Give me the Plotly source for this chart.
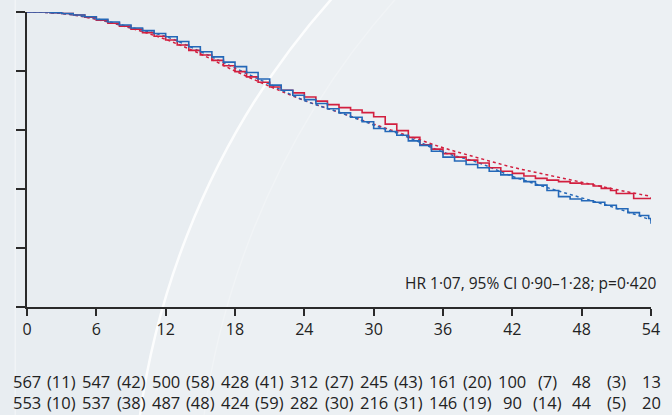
import plotly.graph_objects as go

# ---------------- data ----------------
red_t = [0, 1, 2, 3, 4, 5, 6, 7, 8, 9, 10, 11, 12, 13, 14, 15, 16, 17, 18, 19, 20,
         21, 22, 23, 24, 25, 26, 27, 28, 29, 30, 31, 32, 33, 34, 35, 36, 37, 38, 39,
         40, 41, 42, 43, 44, 45, 46, 47, 48, 49, 49.7, 50.5, 51, 52.5, 54]
red_s = [1.0, 1.0, 0.998, 0.995, 0.99, 0.982, 0.972, 0.962, 0.952, 0.942, 0.93, 0.918,
         0.905, 0.888, 0.87, 0.854, 0.836, 0.818, 0.798, 0.78, 0.762, 0.746, 0.735,
         0.726, 0.712, 0.698, 0.686, 0.676, 0.668, 0.659, 0.645, 0.62, 0.598, 0.575,
         0.55, 0.535, 0.52, 0.508, 0.498, 0.488, 0.472, 0.46, 0.453, 0.444, 0.436,
         0.43, 0.425, 0.42, 0.417, 0.41, 0.402, 0.395, 0.385, 0.368, 0.372]

blue_t = [0, 2, 3, 4, 5, 6, 7, 8, 9, 10, 11, 12, 13, 14, 15, 16, 17, 18, 19, 20, 21,
          22, 23, 24, 25, 26, 27, 28, 29, 30, 31, 32, 33, 34, 35, 36, 37, 38, 39, 40,
          41, 42, 43, 44, 45, 46, 47, 48, 49, 50, 51, 52, 53, 53.8, 54]
blue_s = [1.0, 0.998, 0.995, 0.99, 0.984, 0.975, 0.966, 0.956, 0.946, 0.937, 0.927,
          0.916, 0.9, 0.882, 0.865, 0.848, 0.83, 0.815, 0.795, 0.773, 0.752, 0.735,
          0.718, 0.703, 0.69, 0.672, 0.658, 0.643, 0.628, 0.605, 0.595, 0.582, 0.563,
          0.548, 0.528, 0.508, 0.495, 0.483, 0.472, 0.46, 0.448, 0.436, 0.425, 0.413,
          0.395, 0.374, 0.366, 0.36, 0.355, 0.345, 0.333, 0.32, 0.31, 0.30, 0.282]

fit_t = [0, 3, 6, 9, 12, 15, 18, 21, 24, 27, 30, 33, 36, 39, 42, 45, 48, 51, 54]
red_fit = [1.0, 0.995, 0.975, 0.945, 0.907, 0.858, 0.80, 0.748, 0.70, 0.66, 0.62,
           0.58, 0.54, 0.506, 0.474, 0.448, 0.423, 0.398, 0.375]
blue_fit = [1.0, 0.995, 0.977, 0.948, 0.917, 0.866, 0.81, 0.755, 0.70, 0.66, 0.617,
            0.575, 0.525, 0.49, 0.443, 0.405, 0.37, 0.335, 0.295]

x_ticks = [0, 6, 12, 18, 24, 30, 36, 42, 48, 54]
y_ticks = [0, 0.2, 0.4, 0.6, 0.8, 1.0]

risk_row1 = [567, 547, 500, 428, 312, 245, 161, 100, 48, 13]
events_row1 = [11, 42, 58, 41, 27, 43, 20, 7, 3]
risk_row2 = [553, 537, 487, 424, 282, 216, 146, 90, 44, 20]
events_row2 = [10, 38, 48, 59, 30, 31, 19, 14, 5]

hr_text = "HR 1·07, 95% CI 0·90–1·28; p=0·420"

RED = "#d21f3f"
BLUE = "#2468b8"
AX = "#2a2a2a"
BG = "#e8edf1"
FONT = "Open Sans"
TXT = "#222222"

# ---------------- figure ----------------
fig = go.Figure()
fig.add_trace(go.Scatter(x=fit_t, y=red_fit, mode="lines", line_shape="spline",
                         line=dict(color=RED, width=1.5, dash="3px,3px"), hoverinfo="skip"))
fig.add_trace(go.Scatter(x=fit_t, y=blue_fit, mode="lines", line_shape="spline",
                         line=dict(color=BLUE, width=1.5, dash="3px,3px"), hoverinfo="skip"))
fig.add_trace(go.Scatter(x=red_t, y=red_s, mode="lines", line_shape="hv",
                         line=dict(color=RED, width=1.6), hoverinfo="skip"))
fig.add_trace(go.Scatter(x=blue_t, y=blue_s, mode="lines", line_shape="hv",
                         line=dict(color=BLUE, width=1.6), hoverinfo="skip"))

# plot area geometry (pixels)
L, R, T, B = 27, 12, 12, 108
W, H = 672, 415
pw, ph = W - L - R, H - T - B

def px2x(px):
    return (px - L) / pw

def py2y(py):
    return (H - B - py) / ph

shapes = []
# decorative background arcs
cx, cy, r = 920, 525, 786
shapes.append(dict(type="circle", xref="paper", yref="paper", layer="below",
                   x0=px2x(cx - r), x1=px2x(cx + r), y0=py2y(cy + r), y1=py2y(cy - r),
                   fillcolor="rgba(255,255,255,0.2)", line=dict(width=0)))
shapes.append(dict(type="circle", xref="paper", yref="paper", layer="below",
                   x0=px2x(cx - r), x1=px2x(cx + r), y0=py2y(cy + r), y1=py2y(cy - r),
                   line=dict(color="rgba(255,255,255,0.85)", width=2.5)))
cx2 = 985
shapes.append(dict(type="circle", xref="paper", yref="paper", layer="below",
                   x0=px2x(cx2 - r), x1=px2x(cx2 + r), y0=py2y(cy + r), y1=py2y(cy - r),
                   line=dict(color="rgba(255,255,255,0.25)", width=1.5)))
# faint left strip line
shapes.append(dict(type="line", xref="paper", yref="paper", layer="below",
                   x0=px2x(15), x1=px2x(15), y0=py2y(0), y1=py2y(H),
                   line=dict(color="rgba(255,255,255,0.6)", width=1)))
# x axis extension to the left of the y axis
shapes.append(dict(type="line", xref="paper", yref="paper",
                   x0=px2x(16), x1=0, y0=0, y1=0, line=dict(color=AX, width=1.5)))

annotations = []
y1 = py2y(381)
y2 = py2y(402)
for i, t in enumerate(x_ticks):
    annotations.append(dict(x=t, y=y1, xref="x", yref="paper", text=str(risk_row1[i]),
                            showarrow=False, xanchor="center", yanchor="middle"))
    annotations.append(dict(x=t, y=y2, xref="x", yref="paper", text=str(risk_row2[i]),
                            showarrow=False, xanchor="center", yanchor="middle"))
for i in range(len(events_row1)):
    xm = (x_ticks[i] + x_ticks[i + 1]) / 2
    annotations.append(dict(x=xm, y=y1, xref="x", yref="paper", text=f"({events_row1[i]})",
                            showarrow=False, xanchor="center", yanchor="middle"))
    annotations.append(dict(x=xm, y=y2, xref="x", yref="paper", text=f"({events_row2[i]})",
                            showarrow=False, xanchor="center", yanchor="middle"))
annotations.append(dict(x=54, y=0.08, xref="x", yref="y", text=hr_text, showarrow=False,
                        xanchor="right", yanchor="middle", xshift=8,
                        font=dict(size=15.5, family=FONT, color=TXT)))

fig.update_layout(
    width=W, height=H,
    margin=dict(l=L, r=R, t=T, b=B),
    paper_bgcolor=BG, plot_bgcolor="rgba(0,0,0,0)",
    showlegend=False,
    font=dict(family=FONT, size=16.5, color=TXT),
    shapes=shapes, annotations=annotations,
    xaxis=dict(range=[0, 54], tickvals=x_ticks, ticktext=[str(v) for v in x_ticks],
               showgrid=False, zeroline=False, showline=True, linecolor=AX, linewidth=1.5,
               ticks="outside", ticklen=7, tickwidth=1.5, tickcolor=AX,
               tickfont=dict(size=16, family=FONT, color=TXT)),
    yaxis=dict(range=[0, 1], tickvals=y_ticks, showticklabels=False,
               showgrid=False, zeroline=False, showline=True, linecolor=AX, linewidth=1.5,
               ticks="outside", ticklen=9, tickwidth=1.5, tickcolor=AX),
)

fig.write_html("out.html", config={"displayModeBar": False},
               post_script="document.body.style.margin='0';document.body.style.overflow='hidden';")
